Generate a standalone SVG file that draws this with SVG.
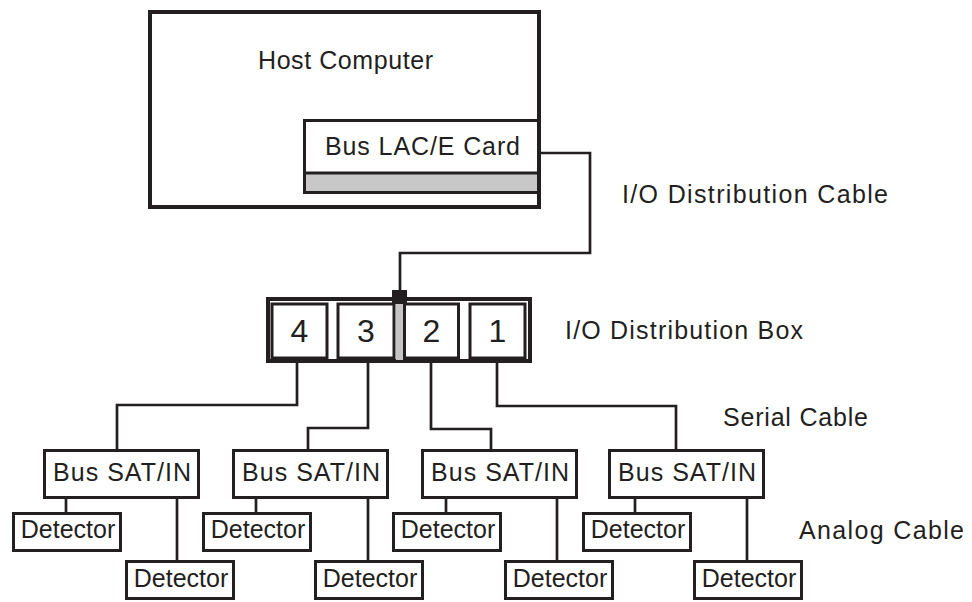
<svg xmlns="http://www.w3.org/2000/svg" width="972" height="602" viewBox="0 0 972 602">
<style>
text{font-family:"Liberation Sans",Arial,sans-serif;fill:#231f20;font-size:25px}
.c{text-anchor:middle}
.num{font-size:32px;text-anchor:middle}
.box{fill:#fff;stroke:#231f20;stroke-width:3}
.thick{fill:#fff;stroke:#231f20;stroke-width:4}
.wire{fill:none;stroke:#231f20;stroke-width:2.7}
</style>
<rect width="972" height="602" fill="#fff"/>
<g id="host">
<rect class="thick" x="150" y="12" width="389" height="195"/>
<text x="258" y="69" textLength="175" lengthAdjust="spacing">Host Computer</text>
</g>
<g id="card">
<rect class="box" x="304.5" y="120.5" width="234" height="72"/>
<rect x="304.5" y="173" width="234" height="19.5" fill="#c8c8c8" stroke="#231f20" stroke-width="3"/>
<text x="325" y="155" textLength="195" lengthAdjust="spacing">Bus LAC/E Card</text>
</g>
<g id="connectors">
<path class="wire" d="M539 153 H590 V253 H400 V292"/>
<path class="wire" d="M297 361 V405 H117 V449"/>
<path class="wire" d="M368 361 V428 H308 V449"/>
<path class="wire" d="M431 361 V429 H491 V449"/>
<path class="wire" d="M497 361 V406 H676 V449"/>
<path class="wire" d="M66 499 V512 M177 499 V560 M256 499 V512 M368 499 V560 M446 499 V512 M557 499 V560 M635 499 V512 M747 499 V560"/>
</g>
<g id="distbox">
<rect class="thick" x="268" y="299" width="262" height="62"/>
<rect x="396" y="300" width="7" height="60" fill="#c4c4c4"/>
<rect class="box" x="272" y="304" width="55" height="54"/>
<rect class="box" x="338" y="304" width="56" height="54"/>
<rect class="box" x="404.5" y="304" width="54" height="54"/>
<rect class="box" x="470" y="304" width="55" height="54"/>
<rect x="392" y="290" width="15" height="14" fill="#231f20"/>
<text class="num" x="299.5" y="342">4</text>
<text class="num" x="366" y="342">3</text>
<text class="num" x="431.5" y="342">2</text>
<text class="num" x="497.5" y="342">1</text>
</g>
<g id="labels">
<text x="622" y="203" textLength="266" lengthAdjust="spacing">I/O Distribution Cable</text>
<text x="565" y="339" textLength="238" lengthAdjust="spacing">I/O Distribution Box</text>
<text x="723" y="426" textLength="145" lengthAdjust="spacing">Serial Cable</text>
<text x="799" y="539" textLength="165" lengthAdjust="spacing">Analog Cable</text>
</g>
<g id="sat1">
<rect class="box" x="44.5" y="450.5" width="154" height="47"/>
<text class="c" x="122" y="481" textLength="138" lengthAdjust="spacing">Bus SAT/IN</text>
</g>
<g id="sat2">
<rect class="box" x="233.5" y="450.5" width="154" height="47"/>
<text class="c" x="311" y="481" textLength="138" lengthAdjust="spacing">Bus SAT/IN</text>
</g>
<g id="sat3">
<rect class="box" x="422.5" y="450.5" width="154" height="47"/>
<text class="c" x="500" y="481" textLength="138" lengthAdjust="spacing">Bus SAT/IN</text>
</g>
<g id="sat4">
<rect class="box" x="609.5" y="450.5" width="154" height="47"/>
<text class="c" x="687" y="481" textLength="138" lengthAdjust="spacing">Bus SAT/IN</text>
</g>
<g id="det1a"><rect class="box" x="13.5" y="513.5" width="107" height="37"/><text class="c" x="68" y="538">Detector</text></g>
<g id="det1b"><rect class="box" x="126.5" y="561.5" width="107" height="37"/><text class="c" x="181" y="587">Detector</text></g>
<g id="det2a"><rect class="box" x="203.5" y="513.5" width="107" height="37"/><text class="c" x="258" y="538">Detector</text></g>
<g id="det2b"><rect class="box" x="315.5" y="561.5" width="107" height="37"/><text class="c" x="370" y="587">Detector</text></g>
<g id="det3a"><rect class="box" x="393.5" y="513.5" width="107" height="37"/><text class="c" x="448" y="538">Detector</text></g>
<g id="det3b"><rect class="box" x="505.5" y="561.5" width="107" height="37"/><text class="c" x="560" y="587">Detector</text></g>
<g id="det4a"><rect class="box" x="583.5" y="513.5" width="107" height="37"/><text class="c" x="638" y="538">Detector</text></g>
<g id="det4b"><rect class="box" x="694.5" y="561.5" width="107" height="37"/><text class="c" x="749" y="587">Detector</text></g>
</svg>
